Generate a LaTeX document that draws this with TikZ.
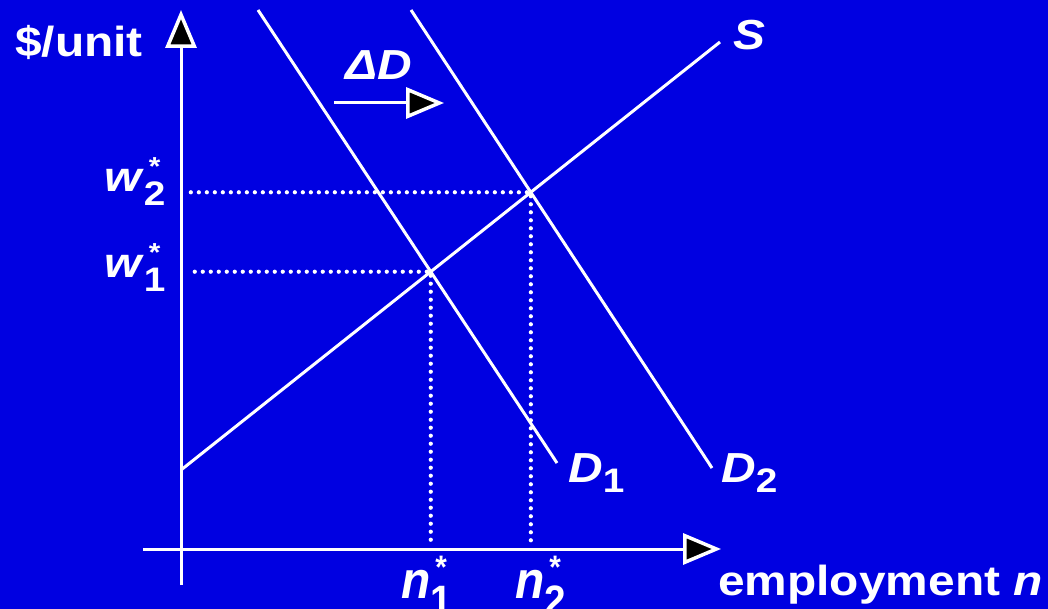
\documentclass[tikz,border=0pt]{standalone}
\usepackage{fontspec}
\setmainfont{Liberation Sans}[FakeStretch=1.14]
\usetikzlibrary{arrows.meta}
\definecolor{cSlide}{HTML}{0000E1}
\definecolor{cTip}{HTML}{000000}
\tikzset{
  curve/.style={draw=white, line width=3pt},
  guide/.style={draw=white, line width=4.2pt, dash pattern=on 0pt off 8pt, line cap=round},
  axis/.style={curve, -{Triangle[fill=cTip, length=38pt, width=31pt, line width=3.5pt]}},
  lab/.style={text=white, inner sep=0pt, font=\fontsize{42}{46}\selectfont\bfseries},
}
\newcommand{\subidx}[2][10pt]{\raisebox{-#1}{\fontsize{34}{34}\selectfont #2}}
\newcommand{\eqlab}[2]{\textit{#1}\subidx[14pt]{#2}\hspace{-10.8pt}\makebox[0pt]{\raisebox{16pt}{\fontsize{26}{26}\selectfont *}}\hspace{10.8pt}}

\begin{document}
\begin{tikzpicture}[x=1pt, y=-1pt]
  \fill[cSlide] (0,0) rectangle (1048,609);
  \useasboundingbox (0,0) rectangle (1048,609);
  % axes
  \coordinate (ybot) at (181,585);
  \coordinate (ytop) at (181,10);
  \coordinate (xleft) at (143,549);
  \coordinate (xright) at (721,549);
  \draw[axis] (ybot) -- (ytop);
  \draw[axis] (xleft) -- (xright);
  % supply and the two demand curves
  \coordinate (s0) at (181,470);
  \coordinate (s1) at (720,42);
  \coordinate (d1top) at (258,10);
  \coordinate (d1bot) at (557,463);
  \coordinate (d2top) at (411,10);
  \coordinate (d2bot) at (712,468);
  \draw[curve] (s0) -- (s1);
  \draw[curve] (d1top) -- (d1bot);
  \draw[curve] (d2top) -- (d2bot);
  % equilibria and guide lines
  \coordinate (eq1) at (intersection of s0--s1 and d1top--d1bot);
  \coordinate (eq2) at (intersection of s0--s1 and d2top--d2bot);
  \foreach \e in {eq1, eq2}{
    \draw[guide, shorten <=4pt, shorten >=9pt] (\e) -- (\e -| ybot);
    \draw[guide, shorten <=4pt, shorten >=8pt] (\e) -- (\e |- xleft);
  }
  % shift of demand
  \coordinate (shiftA) at (334,103);
  \coordinate (shiftB) at (444,103);
  \draw[axis] (shiftA) -- (shiftB);
  % labels
  \node[lab, anchor=base west] (ylab) at (15,57) {\$/unit};
  \node[lab, anchor=base west] (xlab) at (718,595) {employment \textit{n}};
  \node[lab, anchor=base west] (slab) at (733,50) {\textit{S}};
  \node[lab, anchor=base west] (dlab) at (345,80) {\textit{ΔD}};
  \node[lab, anchor=base west] (d1lab) at (568,482) {\textit{D}\subidx{1}};
  \node[lab, anchor=base west] (d2lab) at (721,482) {\textit{D}\subidx{2}};
  \node[lab, anchor=base west] (w2lab) at (104,192) {\eqlab{w}{2}};
  \node[lab, anchor=base west] (w1lab) at (104,277) {\eqlab{w}{1}};
  \node[lab, anchor=base west] (n1lab) at (401,598) {\scalebox{1}[1.25]{\eqlab{n}{1}}};
  \node[lab, anchor=base west] (n2lab) at (515,598) {\scalebox{1}[1.25]{\eqlab{n}{2}}};
\end{tikzpicture}
\end{document}
